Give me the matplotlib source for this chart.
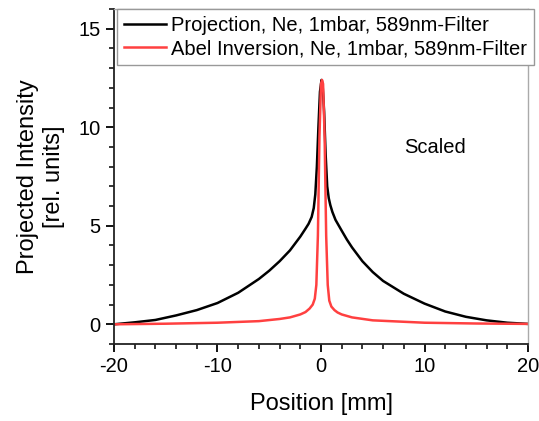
import numpy as np
import matplotlib.pyplot as plt
from matplotlib.ticker import MultipleLocator

plt.rcParams['font.family'] = ['Liberation Sans', 'DejaVu Sans']
plt.rcParams['axes.unicode_minus'] = False

# projection (black)
x_proj = [-20, -18, -16, -14, -12, -10, -8, -6, -5, -4, -3, -2, -1.5, -1.2, -0.9,
          -0.7, -0.55, -0.4, -0.25, -0.1, 0.05, 0.15, 0.3, 0.45, 0.6, 0.75, 0.9,
          1.1, 1.4, 2, 2.5, 3, 4, 5, 6, 8, 10, 12, 14, 16, 18, 20]
y_proj = [0, 0.1, 0.22, 0.45, 0.72, 1.08, 1.6, 2.3, 2.72, 3.2, 3.75, 4.45, 4.85,
          5.1, 5.45, 5.9, 6.6, 8.0, 10.0, 11.8, 12.4, 12.2, 10.8, 8.6, 7.0, 6.4,
          6.05, 5.7, 5.3, 4.75, 4.3, 3.9, 3.2, 2.65, 2.2, 1.55, 1.05, 0.65, 0.38,
          0.2, 0.08, 0.02]

# abel inversion (red)
x_abel = [-20, -15, -10, -6, -4, -3, -2, -1.5, -1.1, -0.8, -0.6, -0.45, -0.3,
          -0.15, 0, 0.1, 0.2, 0.35, 0.5, 0.65, 0.8, 1.0, 1.3, 1.6, 2, 3, 5, 10,
          15, 20]
y_abel = [0, 0.03, 0.08, 0.16, 0.27, 0.35, 0.5, 0.62, 0.8, 1.0, 1.3, 2.0, 4.5,
          9.5, 12.2, 12.4, 12.2, 9.5, 4.5, 2.0, 1.2, 0.9, 0.72, 0.6, 0.5, 0.35,
          0.2, 0.08, 0.04, 0.02]

labels = ['Projection, Ne, 1mbar, 589nm-Filter',
          'Abel Inversion, Ne, 1mbar, 589nm-Filter']

fig = plt.figure(figsize=(5.39, 4.21), dpi=100)
ax = fig.add_axes([0.2115, 0.1829, 0.7681, 0.7957])

ax.plot(x_proj, y_proj, color='black', lw=1.8, label=labels[0])
ax.plot(x_abel, y_abel, color='#ff4040', lw=1.8, label=labels[1])

ax.set_xlim(-20, 20)
ax.set_ylim(-1, 16)
ax.xaxis.set_major_locator(MultipleLocator(10))
ax.xaxis.set_minor_locator(MultipleLocator(2))
ax.yaxis.set_major_locator(MultipleLocator(5))
ax.yaxis.set_minor_locator(MultipleLocator(1))
ax.tick_params(which='major', length=6, width=1.3, labelsize=14.5, direction='out')
ax.tick_params(which='minor', length=3.5, width=1.1, direction='out')
ax.tick_params(top=False, right=False)
for s in ['left', 'bottom']:
    ax.spines[s].set_color('#222222')
    ax.spines[s].set_linewidth(1.3)
for s in ['top', 'right']:
    ax.spines[s].set_color('#aaaaaa')
    ax.spines[s].set_linewidth(1.0)

ax.set_xlabel('Position [mm]', fontsize=17, labelpad=12)
ax.set_ylabel('Projected Intensity\n[rel. units]', fontsize=17, labelpad=10)

ax.text(11.0, 8.95, 'Scaled', fontsize=14.5, ha='center', va='center')

leg = ax.legend(loc='upper left', bbox_to_anchor=(0.007, 1.0), borderaxespad=0,
                fontsize=14.5, handlelength=2.1, handletextpad=0.25,
                labelspacing=0.2, borderpad=0.35, fancybox=False, framealpha=1)
leg.get_frame().set_edgecolor('#999999')
leg.get_frame().set_linewidth(1.0)

fig.savefig('out.png', dpi=100)
